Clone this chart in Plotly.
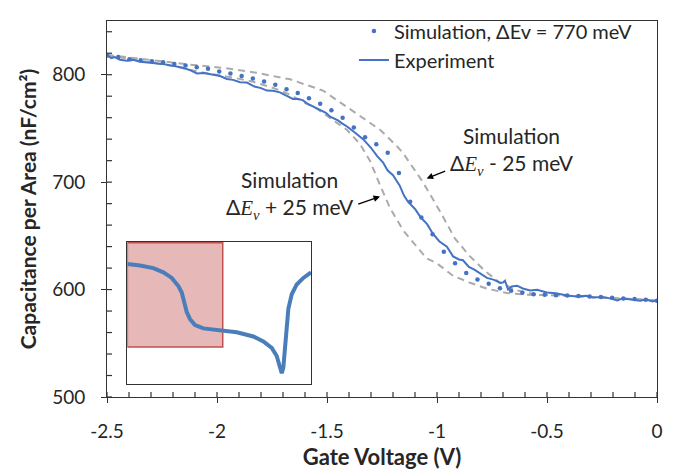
import plotly.graph_objects as go

# ---------------- data ----------------
exp_v = [-2.500, -2.480, -2.465, -2.441, -2.410, -2.382, -2.350, -2.305, -2.270, -2.227,
         -2.190, -2.155, -2.120, -2.091, -2.060, -2.032, -1.986, -1.955, -1.927, -1.895,
         -1.864, -1.830, -1.800, -1.773, -1.745, -1.714, -1.685, -1.655, -1.630, -1.609,
         -1.585, -1.564, -1.530, -1.505, -1.486, -1.450, -1.430, -1.409, -1.375, -1.355,
         -1.336, -1.300, -1.273, -1.245, -1.225, -1.200, -1.170, -1.150, -1.132, -1.100,
         -1.075, -1.045, -1.018, -0.990, -0.955, -0.927, -0.900, -0.882, -0.855, -0.830,
         -0.805, -0.773, -0.740, -0.714, -0.700, -0.691, -0.677, -0.660, -0.636, -0.610,
         -0.577, -0.545, -0.500, -0.460, -0.409, -0.364, -0.320, -0.291, -0.250, -0.214,
         -0.180, -0.160, -0.136, -0.100, -0.077, -0.050, -0.020, 0.000]
exp_c = [818.0, 815.5, 816.5, 814.0, 813.0, 813.8, 812.0, 811.5, 810.5, 809.4,
         808.0, 806.4, 804.0, 801.2, 801.5, 800.3, 798.8, 796.0, 795.2, 793.0,
         792.7, 789.0, 787.5, 785.2, 785.0, 783.6, 780.5, 777.5, 777.5, 776.1,
         772.5, 770.6, 767.0, 764.5, 760.9, 757.5, 754.5, 751.8, 746.5, 743.0,
         740.0, 732.0, 724.5, 718.2, 711.0, 706.4, 697.0, 687.5, 681.8, 675.0,
         667.5, 660.9, 651.8, 645.0, 640.0, 630.9, 628.0, 627.3, 621.0, 618.5,
         615.5, 610.9, 609.0, 606.4, 606.5, 608.2, 600.0, 603.0, 603.6, 601.0,
         599.1, 599.8, 597.3, 596.5, 594.5, 593.6, 594.2, 592.7, 593.0, 591.8,
         589.8, 591.5, 591.2, 590.2, 589.7, 590.8, 589.0, 590.0]

sim_v = [-2.500, -2.449, -2.398, -2.347, -2.296, -2.245, -2.194, -2.143, -2.092, -2.041,
         -1.990, -1.939, -1.888, -1.837, -1.786, -1.735, -1.684, -1.633, -1.582, -1.531,
         -1.480, -1.429, -1.378, -1.327, -1.276, -1.224, -1.173, -1.122, -1.071, -1.020,
         -0.969, -0.918, -0.867, -0.816, -0.765, -0.714, -0.663, -0.612, -0.561, -0.510,
         -0.459, -0.408, -0.357, -0.306, -0.255, -0.204, -0.153, -0.102, -0.051, 0.000]
sim_c = [818.0, 816.4, 814.5, 813.4, 812.5, 811.5, 810.0, 808.5, 807.0, 805.5,
         803.0, 801.2, 798.8, 796.4, 793.6, 790.6, 786.4, 783.0, 778.2, 773.0,
         767.0, 760.0, 750.9, 741.8, 735.2, 727.3, 708.5, 681.8, 667.0, 651.4,
         635.2, 624.5, 615.5, 609.4, 605.5, 601.2, 598.8, 597.0, 595.7, 595.2,
         594.8, 594.5, 593.9, 593.6, 593.0, 592.5, 591.8, 591.2, 590.6, 589.7]

minus25_v = [-2.500, -2.274, -2.123, -1.973, -1.820, -1.668, -1.518, -1.410, -1.350, -1.259,
             -1.183, -1.155, -1.064, -0.986, -0.918, -0.850, -0.782, -0.714, -0.632, -0.555,
             -0.441, -0.259, 0.000]
minus25_c = [818.5, 813.0, 809.4, 806.4, 801.8, 795.7, 785.2, 770.0, 761.5, 748.8,
             733.6, 727.3, 700.0, 672.7, 647.3, 630.9, 617.3, 606.4, 599.1, 595.5,
             594.5, 592.7, 590.0]

plus25_v = [-2.500, -2.335, -2.183, -2.077, -1.926, -1.835, -1.729, -1.668, -1.608, -1.547,
            -1.486, -1.410, -1.350, -1.305, -1.259, -1.214, -1.153, -1.092, -1.047, -1.001,
            -0.926, -0.850, -0.774, -0.683, -0.592, -0.441, -0.259, 0.000]
plus25_c = [818.2, 812.5, 807.3, 802.5, 797.3, 793.4, 786.6, 781.4, 774.5, 768.5,
            759.4, 748.8, 735.5, 720.0, 697.3, 676.1, 654.8, 639.7, 629.0, 624.5,
            612.7, 606.4, 600.9, 596.8, 595.2, 594.5, 592.7, 590.0]

# inset: full C-V sweep (schematic units)
inset_v = [-2.500, -2.167, -1.819, -1.556, -1.336, -1.163, -1.074, -1.006, -0.943, -0.857,
           -0.726, -0.508, -0.070, 0.367, 0.802, 1.065, 1.285, 1.416, 1.502, 1.547,
           1.589, 1.633, 1.678, 1.720, 1.809, 1.940, 2.113, 2.315]
inset_c = [778.8, 773.6, 764.7, 750.6, 731.9, 704.7, 682.7, 649.9, 617.1, 593.2,
           573.5, 562.3, 557.1, 549.2, 535.1, 518.7, 496.7, 469.5, 431.1, 411.5,
           431.1, 496.7, 573.5, 627.9, 677.1, 709.9, 731.9, 750.6]
zoom_box_v = [-2.5, 0.0]
zoom_box_c = [500, 850]

x_range = [-2.5, 0.0]
y_range = [500, 850]
x_ticks = [-2.5, -2.0, -1.5, -1.0, -0.5, 0.0]
x_labels = ["-2.5", "-2", "-1.5", "-1", "-0.5", "0"]
x_minor_ticks = [-2.4, -2.3, -2.2, -2.1, -1.9, -1.8, -1.7, -1.6, -1.4, -1.3,
                 -1.2, -1.1, -0.9, -0.8, -0.7, -0.6, -0.4, -0.3, -0.2, -0.1]
y_ticks = [500, 600, 700, 800]
y_labels = ["500", "600", "700", "800"]
y_minor_ticks = [520, 540, 560, 580, 620, 640, 660, 680, 720, 740, 760, 780, 820, 840]

# ---------------- style ----------------
BLUE = "#4472C4"
GRAY = "#ABABAB"
AX = "#333333"
TXT = "#262626"
FONT = "Lato"
TICK_PX = 5

fig = go.Figure()
fig.add_trace(go.Scatter(x=minus25_v, y=minus25_c, mode="lines", showlegend=False,
                         line=dict(color=GRAY, width=2, dash="7px,5px"), hoverinfo="skip"))
fig.add_trace(go.Scatter(x=plus25_v, y=plus25_c, mode="lines", showlegend=False,
                         line=dict(color=GRAY, width=2, dash="7px,5px"), hoverinfo="skip"))
fig.add_trace(go.Scatter(x=exp_v, y=exp_c, mode="lines", name="Experiment", legendrank=2,
                         line=dict(color=BLUE, width=2)))
fig.add_trace(go.Scatter(x=sim_v, y=sim_c, mode="markers", name="Simulation, ΔEv = 770 meV",
                         legendrank=1, marker=dict(color=BLUE, size=4.5)))
fig.add_trace(go.Scatter(x=inset_v, y=inset_c, mode="lines", showlegend=False,
                         xaxis="x2", yaxis="y2", line=dict(color="#4A7EBB", width=4)))

fig.update_layout(
    template="none",
    width=676, height=470, margin=dict(l=107, r=19, t=12, b=73),
    paper_bgcolor="white", plot_bgcolor="white",
    font=dict(family=FONT, size=19, color=TXT),
    showlegend=True,
    legend=dict(x=0.449, y=1.025, xanchor="left", yanchor="top", bgcolor="rgba(0,0,0,0)",
                font=dict(family=FONT, size=20, color=TXT), tracegroupgap=0, itemwidth=30),
)
fig.update_layout(xaxis=dict(
    range=x_range, showline=True, linecolor=AX, linewidth=1, mirror=True,
    showgrid=False, zeroline=False, automargin=False,
    tickmode="array", tickvals=x_ticks, ticktext=x_labels,
    ticks="outside", ticklen=5, tickwidth=1, tickcolor=AX, ticklabelstandoff=12,
    tickfont=dict(family=FONT, size=19, color=TXT),
    title=dict(text="<b>Gate Voltage (V)</b>", font=dict(family=FONT, size=22, color=TXT),
               standoff=10)))
fig.update_layout(yaxis=dict(
    range=y_range, showline=True, linecolor=AX, linewidth=1, mirror=True,
    showgrid=False, zeroline=False, automargin=False,
    tickmode="array", tickvals=y_ticks, ticktext=y_labels,
    ticks="outside", ticklen=5, tickwidth=1, tickcolor=AX, ticklabelstandoff=12,
    tickfont=dict(family=FONT, size=19, color=TXT),
    title=dict(text="<b>Capacitance per Area (nF/cm²)</b>",
               font=dict(family=FONT, size=21, color=TXT), standoff=9)))
fig.update_layout(
    xaxis2=dict(domain=[0.037, 0.371], anchor="y2", range=[-2.5, 2.315], showline=True,
                linecolor="#333333", linewidth=1.2, mirror=True, showticklabels=False,
                ticks="", showgrid=False, zeroline=False, automargin=False),
    yaxis2=dict(domain=[0.0356, 0.412], anchor="x2", range=[376.7, 852.3], showline=True,
                linecolor="#333333", linewidth=1.2, mirror=True, showticklabels=False,
                ticks="", showgrid=False, zeroline=False, automargin=False),
)

# tick marks as pixel-sized line shapes anchored on the axes
tick_line = dict(color=AX, width=1.2)
for xv in x_ticks:
    fig.add_shape(type="line", xref="x", yref="y", x0=xv, x1=xv, ysizemode="pixel",
                  yanchor=y_range[0], y0=-TICK_PX, y1=TICK_PX, line=tick_line, layer="above")
for xv in x_minor_ticks:
    fig.add_shape(type="line", xref="x", yref="y", x0=xv, x1=xv, ysizemode="pixel",
                  yanchor=y_range[0], y0=0, y1=TICK_PX, line=tick_line, layer="above")
for yv in y_ticks:
    fig.add_shape(type="line", xref="x", yref="y", y0=yv, y1=yv, xsizemode="pixel",
                  xanchor=x_range[0], x0=-TICK_PX, x1=TICK_PX, line=tick_line, layer="above")
for yv in y_minor_ticks:
    fig.add_shape(type="line", xref="x", yref="y", y0=yv, y1=yv, xsizemode="pixel",
                  xanchor=x_range[0], x0=0, x1=TICK_PX, line=tick_line, layer="above")

fig.add_shape(type="rect", xref="x2", yref="y2", x0=zoom_box_v[0], x1=zoom_box_v[1],
              y0=zoom_box_c[0], y1=zoom_box_c[1], layer="below",
              fillcolor="rgb(230,185,184)", line=dict(color="rgb(192,80,77)", width=1.5))

dEv = "Δ<span style='font-family:Liberation Serif'><i>E</i><sub><i>v</i></sub></span>"
fig.add_annotation(x=-0.659, y=729.1, xref="x", yref="y", showarrow=False,
                   text="Simulation<br>" + dEv + " - 25 meV", align="center",
                   font=dict(family=FONT, size=21, color=TXT))
fig.add_annotation(x=-1.668, y=688.2, xref="x", yref="y", showarrow=False,
                   text="Simulation<br>" + dEv + " + 25 meV", align="center",
                   font=dict(family=FONT, size=21, color=TXT))
fig.add_annotation(x=-1.047, y=703.4, ax=-0.956, ay=710.9, xref="x", yref="y",
                   axref="x", ayref="y", text="", showarrow=True, arrowhead=2,
                   arrowsize=1, arrowwidth=1.3, arrowcolor="black")
fig.add_annotation(x=-1.259, y=686.6, ax=-1.365, ay=679.1, xref="x", yref="y",
                   axref="x", ayref="y", text="", showarrow=True, arrowhead=2,
                   arrowsize=1, arrowwidth=1.3, arrowcolor="black")

fig.write_html("out.html", config={"displayModeBar": False},
               post_script="document.body.style.margin='0';document.body.style.padding='0';")
